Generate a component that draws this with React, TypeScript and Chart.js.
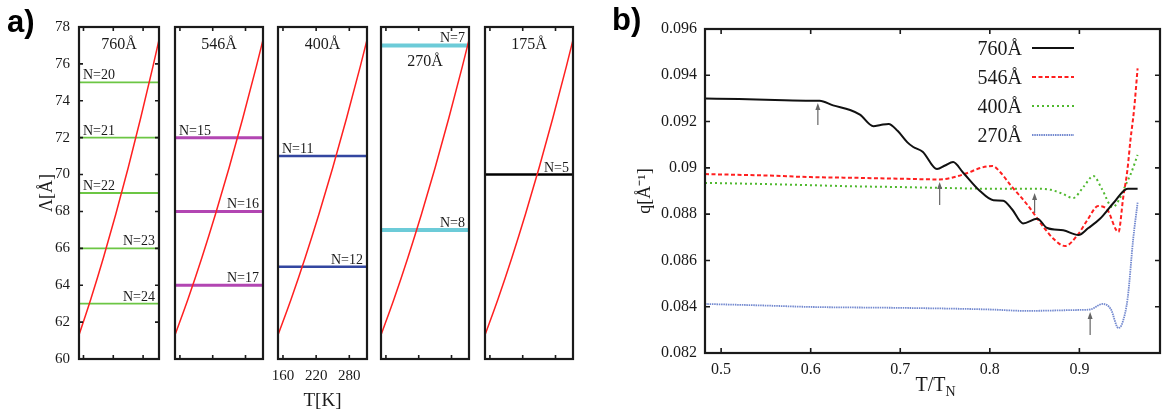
import React, { useEffect, useRef } from 'react';
import { Chart, registerables } from 'chart.js';
Chart.register(...registerables);

const SERIF = '"Liberation Serif", "Times New Roman", Times, serif';
const SANS = '"Liberation Sans", Arial, sans-serif';
const INK = '#1a1a1a';

// ---------------- Panel a) data ----------------
const thicknessTitles = ['760Å', '546Å', '400Å', '270Å', '175Å'];
const tempK = [151, 175, 200, 225, 250, 275, 300, 312];
const lambdaT = [61.3, 63.27, 65.48, 67.85, 70.37, 73.05, 75.88, 77.3];
const lambdaTicks = [60, 62, 64, 66, 68, 70, 72, 74, 76, 78];
const tempTicks = [160, 220, 280];
const levels760 = [75, 72, 69, 66, 63];
const names760 = ['N=20', 'N=21', 'N=22', 'N=23', 'N=24'];
const levels546 = [72, 68, 64];
const names546 = ['N=15', 'N=16', 'N=17'];
const levels400 = [71, 65];
const names400 = ['N=11', 'N=12'];
const levels270 = [77, 67];
const names270 = ['N=7', 'N=8'];
const levels175 = [70];
const names175 = ['N=5'];

// ---------------- Panel b) data ----------------
const seriesLabels = ['760Å', '546Å', '400Å', '270Å'];
const t760 = [0.482, 0.52, 0.56, 0.6, 0.61, 0.625, 0.644, 0.655, 0.67, 0.678, 0.687, 0.697, 0.708, 0.7145, 0.725, 0.741, 0.75, 0.759, 0.77, 0.789, 0.804, 0.815, 0.825, 0.837, 0.853, 0.864, 0.882, 0.899, 0.91, 0.923, 0.938, 0.954, 0.965];
const q760 = [0.093, 0.09297, 0.09293, 0.0929, 0.0929, 0.0927, 0.0925, 0.0923, 0.0918, 0.09185, 0.0919, 0.0916, 0.0911, 0.0909, 0.0907, 0.08995, 0.0901, 0.09025, 0.0898, 0.089, 0.0886, 0.08858, 0.0882, 0.0876, 0.0878, 0.0874, 0.0873, 0.0871, 0.0874, 0.0878, 0.08848, 0.0891, 0.0891];
const t546 = [0.482, 0.55, 0.6, 0.65, 0.7, 0.744, 0.756, 0.775, 0.79, 0.803, 0.812, 0.823, 0.842, 0.86, 0.872, 0.884, 0.898, 0.909, 0.921, 0.931, 0.9436, 0.949, 0.9536, 0.957, 0.961, 0.965];
const q546 = [0.08973, 0.08967, 0.0896, 0.08957, 0.08953, 0.0895, 0.08956, 0.08978, 0.09, 0.09008, 0.0898, 0.08926, 0.0884, 0.08744, 0.0869, 0.08662, 0.0871, 0.08775, 0.08835, 0.0882, 0.08723, 0.08874, 0.0899, 0.0912, 0.0925, 0.0943];
const t400 = [0.482, 0.55, 0.6, 0.65, 0.7, 0.75, 0.8, 0.85, 0.868, 0.88, 0.893, 0.905, 0.9156, 0.925, 0.937, 0.944, 0.951, 0.958, 0.965];
const q400 = [0.08935, 0.0893, 0.08925, 0.0892, 0.08917, 0.08913, 0.0891, 0.0891, 0.08905, 0.0889, 0.0887, 0.0892, 0.08965, 0.0891, 0.0883, 0.0886, 0.0892, 0.0898, 0.09056];
const t270 = [0.482, 0.55, 0.6, 0.7, 0.8, 0.84, 0.9, 0.912, 0.926, 0.935, 0.9436, 0.948, 0.954, 0.96, 0.965];
const q270 = [0.08412, 0.08405, 0.08399, 0.08395, 0.08388, 0.08382, 0.08386, 0.08388, 0.08412, 0.0839, 0.08308, 0.0833, 0.0844, 0.0869, 0.0885];
const ratioTicks = [0.5, 0.6, 0.7, 0.8, 0.9];
const qTicks = [0.082, 0.084, 0.086, 0.088, 0.09, 0.092, 0.094, 0.096];
const arrowT = [0.608, 0.744, 0.85, 0.912];
const arrowTipQ = [0.0928, 0.08939, 0.08891, 0.08377];
const arrowTailQ = [0.09185, 0.0884, 0.08805, 0.08278];

// ---------------- styles / geometry ----------------
type Sub = {
  title: string; levels: number[]; names: string[]; sides: string[];
  color: string; width: number; left: number; right: number; titleDy: number;
  yAxis: boolean; xLabels: boolean;
};
const subPanels: Sub[] = [
  { title: thicknessTitles[0], levels: levels760, names: names760, sides: ['l', 'l', 'l', 'r', 'r'], color: '#6cc644', width: 1.8, left: 79, right: 159, titleDy: 22, yAxis: true, xLabels: false },
  { title: thicknessTitles[1], levels: levels546, names: names546, sides: ['l', 'r', 'r'], color: '#b246b2', width: 3, left: 175, right: 263, titleDy: 22, yAxis: false, xLabels: false },
  { title: thicknessTitles[2], levels: levels400, names: names400, sides: ['l', 'r'], color: '#3346a0', width: 2.5, left: 278, right: 367, titleDy: 22, yAxis: false, xLabels: true },
  { title: thicknessTitles[3], levels: levels270, names: names270, sides: ['r', 'r'], color: '#6ccbd8', width: 4, left: 381, right: 469, titleDy: 39, yAxis: false, xLabels: false },
  { title: thicknessTitles[4], levels: levels175, names: names175, sides: ['r'], color: '#000000', width: 2.5, left: 485, right: 573, titleDy: 22, yAxis: false, xLabels: false },
];
const SUB_PAD = 16;
const RIGHT_LEFT = 590;

function framePlugin(yTicks: boolean, tickLen: number) {
  return {
    id: 'frame',
    afterDatasetsDraw(chart: any) {
      const { ctx, chartArea: a, scales } = chart;
      ctx.save();
      ctx.strokeStyle = INK;
      ctx.lineWidth = 1.6;
      ctx.beginPath();
      const xs = scales.x;
      xs.ticks.forEach((t: any) => {
        const p = xs.getPixelForValue(t.value);
        ctx.moveTo(p, a.bottom); ctx.lineTo(p, a.bottom - tickLen);
        ctx.moveTo(p, a.top); ctx.lineTo(p, a.top + tickLen);
      });
      if (yTicks) {
        const ys = scales.y;
        ys.ticks.forEach((t: any) => {
          const p = ys.getPixelForValue(t.value);
          ctx.moveTo(a.left, p); ctx.lineTo(a.left + tickLen, p);
          ctx.moveTo(a.right, p); ctx.lineTo(a.right - tickLen, p);
        });
      }
      ctx.stroke();
      ctx.lineWidth = 2.2;
      ctx.strokeRect(a.left, a.top, a.right - a.left, a.bottom - a.top);
      ctx.restore();
    },
  };
}

function levelLabelPlugin(p: Sub) {
  return {
    id: 'levelLabels',
    afterDatasetsDraw(chart: any) {
      const { ctx, chartArea: a, scales } = chart;
      const y = scales.y;
      ctx.save();
      ctx.fillStyle = INK;
      ctx.font = `14px ${SERIF}`;
      ctx.textBaseline = 'alphabetic';
      p.names.forEach((txt, i) => {
        const py = y.getPixelForValue(p.levels[i]) - 3;
        if (p.sides[i] === 'l') { ctx.textAlign = 'left'; ctx.fillText(txt, a.left + 4, py); }
        else { ctx.textAlign = 'right'; ctx.fillText(txt, a.right - 4, py); }
      });
      ctx.font = `16px ${SERIF}`;
      ctx.textAlign = 'center';
      ctx.fillText(p.title, (a.left + a.right) / 2, a.top + p.titleDy);
      ctx.restore();
    },
  };
}

function buildSub(p: Sub): any {
  const canvasLeft = p.yAxis ? 0 : p.left - SUB_PAD;
  const datasets: any[] = [
    {
      data: tempK.map((x, i) => ({ x, y: lambdaT[i] })),
      borderColor: '#ff2020', borderWidth: 1.5, pointRadius: 0, cubicInterpolationMode: 'monotone',
    },
    ...p.levels.map((v) => ({
      data: [{ x: 151, y: v }, { x: 312, y: v }],
      borderColor: p.color, borderWidth: p.width, pointRadius: 0,
    })),
  ];
  return {
    type: 'line',
    data: { datasets },
    options: {
      animation: false, responsive: false, events: [],
      layout: { padding: { top: 27, bottom: 0, left: p.yAxis ? 0 : SUB_PAD, right: SUB_PAD } },
      plugins: { legend: { display: false }, tooltip: { enabled: false } },
      scales: {
        x: {
          type: 'linear', min: 151, max: 312,
          afterBuildTicks: (s: any) => { s.ticks = tempTicks.map((v) => ({ value: v })); },
          afterFit: (s: any) => { s.height = 55; },
          grid: { display: false, drawTicks: false }, border: { display: false },
          ticks: {
            color: p.xLabels ? INK : 'rgba(0,0,0,0)', font: { family: SERIF, size: 15 },
            padding: 8, maxRotation: 0, autoSkip: false, callback: (v: any) => String(v),
          },
          title: p.xLabels
            ? { display: true, text: 'T[K]', color: INK, font: { family: SERIF, size: 19 }, padding: { top: 0, bottom: 2 } }
            : { display: false },
        },
        y: {
          type: 'linear', min: 60, max: 78, display: p.yAxis,
          afterBuildTicks: (s: any) => { s.ticks = lambdaTicks.map((v) => ({ value: v })); },
          afterFit: (s: any) => { if (p.yAxis) s.width = p.left - canvasLeft; else s.width = 0; },
          grid: { display: false, drawTicks: false }, border: { display: false },
          ticks: { color: INK, font: { family: SERIF, size: 15 }, padding: 9, autoSkip: false, callback: (v: any) => String(v) },
          title: { display: p.yAxis, text: 'Λ[Å]', color: INK, font: { family: SERIF, size: 18 }, padding: { top: 36, bottom: 0 } },
        },
      },
    },
    plugins: [framePlugin(p.yAxis, 4), levelLabelPlugin(p)],
  };
}

const rightPlugins = [
  framePlugin(true, 5),
  {
    id: 'arrows',
    afterDatasetsDraw(chart: any) {
      const { ctx, scales: { x, y } } = chart;
      ctx.save();
      ctx.strokeStyle = '#666';
      ctx.fillStyle = '#666';
      ctx.lineWidth = 1.2;
      arrowT.forEach((t, i) => {
        const px = x.getPixelForValue(t);
        const tip = y.getPixelForValue(arrowTipQ[i]);
        const tail = y.getPixelForValue(arrowTailQ[i]);
        ctx.beginPath(); ctx.moveTo(px, tail); ctx.lineTo(px, tip + 5); ctx.stroke();
        ctx.beginPath(); ctx.moveTo(px, tip); ctx.lineTo(px - 2.5, tip + 7); ctx.lineTo(px + 2.5, tip + 7); ctx.closePath(); ctx.fill();
      });
      ctx.restore();
    },
  },
  {
    id: 'legendBox',
    afterDatasetsDraw(chart: any) {
      const { ctx, chartArea: a } = chart;
      ctx.save();
      chart.data.datasets.forEach((ds: any, i: number) => {
        const cy = a.top + 19 + i * 29;
        ctx.fillStyle = INK;
        ctx.font = `20px ${SERIF}`;
        ctx.textAlign = 'right';
        ctx.textBaseline = 'alphabetic';
        ctx.fillText(ds.label, a.right - 138, cy + 6.5);
        ctx.strokeStyle = ds.borderColor;
        ctx.lineWidth = ds.borderWidth;
        ctx.setLineDash(ds.borderDash || []);
        ctx.beginPath(); ctx.moveTo(a.right - 128, cy); ctx.lineTo(a.right - 86, cy); ctx.stroke();
        ctx.setLineDash([]);
      });
      ctx.restore();
    },
  },
  {
    id: 'xTitle',
    afterDraw(chart: any) {
      const { ctx, chartArea: a } = chart;
      ctx.save();
      ctx.fillStyle = INK;
      ctx.textBaseline = 'alphabetic';
      ctx.textAlign = 'left';
      ctx.font = `20px ${SERIF}`;
      const w1 = ctx.measureText('T/T').width;
      ctx.font = `14px ${SERIF}`;
      const w2 = ctx.measureText('N').width;
      const x0 = (a.left + a.right) / 2 - (w1 + w2) / 2 + 3;
      ctx.font = `20px ${SERIF}`;
      ctx.fillText('T/T', x0, 391);
      ctx.font = `14px ${SERIF}`;
      ctx.fillText('N', x0 + w1, 396);
      ctx.restore();
    },
  },
];

function buildRight(): any {
  const mk = (xs: number[], ys: number[]) => xs.map((x, i) => ({ x, y: ys[i] }));
  return {
    type: 'line',
    data: {
      datasets: [
        { label: seriesLabels[0], data: mk(t760, q760), borderColor: '#111111', borderWidth: 2, borderDash: [], pointRadius: 0, cubicInterpolationMode: 'monotone' },
        { label: seriesLabels[1], data: mk(t546, q546), borderColor: '#ff1f1f', borderWidth: 2, borderDash: [4, 2.5], pointRadius: 0, cubicInterpolationMode: 'monotone' },
        { label: seriesLabels[2], data: mk(t400, q400), borderColor: '#4fb82e', borderWidth: 2, borderDash: [2, 3], pointRadius: 0, cubicInterpolationMode: 'monotone' },
        { label: seriesLabels[3], data: mk(t270, q270), borderColor: '#7389cf', borderWidth: 1.8, borderDash: [1.5, 0.8], pointRadius: 0, cubicInterpolationMode: 'monotone' },
      ],
    },
    options: {
      animation: false, responsive: false, events: [],
      layout: { padding: { top: 29, bottom: 0, left: 0, right: 1167 - 1160 } },
      plugins: { legend: { display: false }, tooltip: { enabled: false } },
      scales: {
        x: {
          type: 'linear', min: 0.482, max: 0.99,
          afterBuildTicks: (s: any) => { s.ticks = ratioTicks.map((v) => ({ value: v })); },
          afterFit: (s: any) => { s.height = 414 - 353; },
          grid: { display: false, drawTicks: false }, border: { display: false },
          ticks: { color: INK, font: { family: SERIF, size: 16 }, padding: 7, maxRotation: 0, autoSkip: false, callback: (v: any) => String(v) },
        },
        y: {
          type: 'linear', min: 0.082, max: 0.096,
          afterBuildTicks: (s: any) => { s.ticks = qTicks.map((v) => ({ value: v })); },
          afterFit: (s: any) => { s.width = 705 - RIGHT_LEFT; },
          grid: { display: false, drawTicks: false }, border: { display: false },
          ticks: { color: INK, font: { family: SERIF, size: 16 }, padding: 8, autoSkip: false, callback: (v: any) => String(Number(Number(v).toFixed(3))) },
          title: { display: true, text: 'q[Å⁻¹]', color: INK, font: { family: SERIF, size: 18 }, padding: { top: 44, bottom: 0 } },
        },
      },
    },
    plugins: rightPlugins,
  };
}

export default function App() {
  const subRefs = useRef<(HTMLCanvasElement | null)[]>([]);
  const rightRef = useRef<HTMLCanvasElement | null>(null);

  useEffect(() => {
    const charts: Chart[] = [];
    subPanels.forEach((p, i) => {
      const c = subRefs.current[i];
      if (c) charts.push(new Chart(c, buildSub(p)));
    });
    if (rightRef.current) charts.push(new Chart(rightRef.current, buildRight()));
    return () => charts.forEach((c) => c.destroy());
  }, []);

  return (
    <div style={{ position: 'fixed', left: 0, top: 0, width: 1167, height: 414, background: '#fff', overflow: 'hidden' }}>
      {subPanels.map((p, i) => {
        const left = p.yAxis ? 0 : p.left - SUB_PAD;
        const width = p.right + SUB_PAD - left;
        return (
          <canvas
            key={i}
            ref={(el) => { subRefs.current[i] = el; }}
            width={width}
            height={414}
            style={{ position: 'absolute', left, top: 0, width, height: 414 }}
          />
        );
      })}
      <canvas
        ref={rightRef}
        width={1167 - RIGHT_LEFT}
        height={414}
        style={{ position: 'absolute', left: RIGHT_LEFT, top: 0, width: 1167 - RIGHT_LEFT, height: 414 }}
      />
      <div style={{ position: 'absolute', left: 7, top: 6, font: `bold 31px ${SANS}`, lineHeight: '31px', color: '#000' }}>a)</div>
      <div style={{ position: 'absolute', left: 612, top: 4, font: `bold 31px ${SANS}`, lineHeight: '31px', color: '#000' }}>b)</div>
    </div>
  );
}
